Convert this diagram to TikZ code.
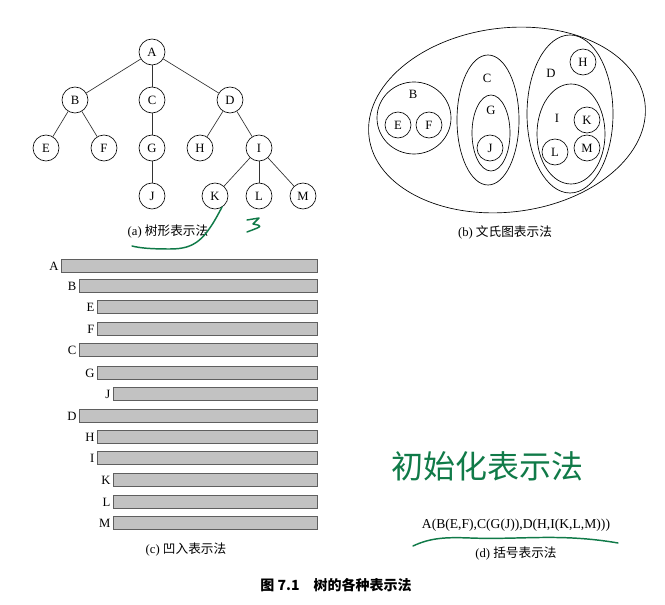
\documentclass[tikz,border=0pt]{standalone}
\usepackage{fontspec}
\setmainfont{Liberation Serif}
\newfontfamily\cjk{Noto Sans CJK SC}
\usetikzlibrary{positioning}
\definecolor{bargray}{RGB}{194,194,194}
\definecolor{bardraw}{RGB}{95,95,95}
\definecolor{ink}{RGB}{16,122,72}
\tikzset{
  vert/.style={draw,circle,line width=0.5pt,minimum size=19.5pt,inner sep=0pt,font=\fontsize{9.5}{11}\selectfont},
  edge/.style={line width=0.5pt,black!80},
  blob/.style={draw,line width=0.5pt},
  vlab/.style={font=\fontsize{9.5}{11}\selectfont,inner sep=0pt},
  strip/.style={draw=bardraw,fill=bargray,line width=0.6pt},
  blab/.style={font=\fontsize{9.5}{11}\selectfont,inner sep=1pt,anchor=east},
  capt/.style={font=\fontsize{9.5}{11}\selectfont,inner sep=0pt},
  pen/.style={ink,line width=1.1pt,line cap=round,line join=round}
}
\begin{document}
\begin{tikzpicture}[x=0.75pt,y=-0.75pt]
  \useasboundingbox (0,0) rectangle (665,605);
  % (a) tree
  \foreach \n/\x/\y in {A/152/52,B/75/100,C/152/100,D/230/100,E/46/148,F/104/148,G/152/148,
      H/200/148,I/259/148,J/152/196,K/215/196,L/259/196,M/303/196}
    \node[vert] (t\n) at (\x,\y) {\n};
  \foreach \p/\c in {A/B,A/C,A/D,B/E,B/F,C/G,D/H,D/I,G/J,I/K,I/L,I/M}
    \draw[edge] (t\p)--(t\c);
  \node[capt] (capa) at (168,232) {(a) {\cjk 树形表示法}};
  % (b) venn
  \draw[blob,rotate around={7:(507,120)}] (507,120) ellipse [x radius=139,y radius=92];
  \draw[blob] (414,118) ellipse [x radius=37,y radius=36];
  \draw[blob] (488,120) ellipse [x radius=31,y radius=65];
  \draw[blob] (491,133) ellipse [x radius=19,y radius=38];
  \draw[blob] (570,114) ellipse [x radius=43,y radius=79];
  \draw[blob] (571,134) ellipse [x radius=34,y radius=50];
  \foreach \n/\x/\y in {B/413/94,C/487/78,G/491/110,D/551/73,I/557/118}
    \node[vlab] (v\n) at (\x,\y) {\n};
  \foreach \n/\x/\y in {E/398/125,F/429/125,J/490/148,H/583/62,K/587/120,L/555/152,M/587/148}
    \node[vert] (w\n) at (\x,\y) {\n};
  \node[capt] (capb) at (505,232) {(b) {\cjk 文氏图表示法}};
  % (c) indentation
  \foreach \n/\lx/\y in {A/61/266,B/79/286,E/97/307,F/97/329,C/79/350,G/97/373,J/113/394,
      D/79/416,H/97/437,I/97/458,K/113/480,L/113/502,M/113/523}{
    \draw[strip] (\lx,\y-6.5) rectangle (317,\y+6.5);
    \node[blab] (c\n) at (\lx-1,\y) {\n};}
  \node[capt] (capc) at (186,550) {(c) {\cjk 凹入表示法}};
  % (d) brackets
  \node[vlab,font=\fontsize{10.2}{12}\selectfont] (expr) at (516,525) {A(B(E,F),C(G(J)),D(H,I(K,L,M)))};
  \node[capt,below=11pt of expr] (capd) {(d) {\cjk 括号表示法}};
  % figure caption
  \node[font=\fontsize{10.5}{12}\selectfont\cjk\bfseries] (fig) at (336,585) {图 7.1\quad 树的各种表示法};
  % handwriting
  \draw[pen] (222,207) .. controls (205,240) and (195,249) .. (170,249) .. controls (150,249) and (140,248) .. (132,246);
  \draw[pen] (247,220) -- (259,218) -- (253,224) .. controls (263,226) .. (247,232);
  \draw[pen] (413,546) .. controls (430,538) and (445,537) .. (470,538) .. controls (520,540) and (560,533) .. (618,543);
  \node[ink,font=\fontsize{24}{26}\selectfont\cjk] (hand) at (487,466) {初始化表示法};
\end{tikzpicture}
\end{document}
